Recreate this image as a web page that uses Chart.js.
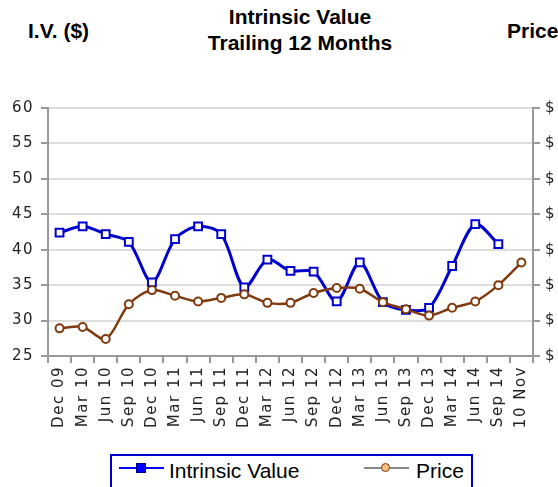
<!DOCTYPE html>
<html>
<head>
<meta charset="utf-8">
<script src="https://cdn.jsdelivr.net/npm/chart.js@4.4.0/dist/chart.umd.min.js"></script>
<style>
   html, body { margin: 0; padding: 0; width: 558px; height: 487px; overflow: hidden; background: #fff; }
   .wrap { position: relative; width: 558px; height: 487px; overflow: hidden; }
   .title { position: absolute; font-family: "Liberation Sans", Arial, sans-serif; font-weight: bold; font-size: 21px; color: #000; line-height: 26px; }
   #chartBox { position: absolute; left: 0; top: 0; width: 600px; height: 447px; }
   .legend { position: absolute; left: 110px; top: 454px; width: 359px; height: 40px; border: 2px solid #0000cc; font-family: "Liberation Sans", Arial, sans-serif; font-size: 21px; color: #000; }
   .item { position: absolute; top: 3px; height: 24px; line-height: 24px; }
   .sym { position: absolute; top: 11px; width: 45px; height: 2px; }
   .mk { position: absolute; }
</style>
</head>
<body>
<div class="wrap">
   <div class="title" style="left:28px; top:18px;">I.V. ($)</div>
   <div class="title" style="left:150px; top:4px; width:300px; text-align:center;">Intrinsic Value<br>Trailing 12 Months</div>
   <div class="title" style="left:507px; top:18px;">Price</div>
   <div id="chartBox"><canvas id="lineChart"></canvas></div>
   <div class="legend">
      <div class="sym" style="left:7px; background:#0000ff;"></div>
      <div class="mk" style="left:24px; top:7px; width:8px; height:8px; background:#0000ff; border:1px solid #000088;"></div>
      <div class="item" style="left:57px;">Intrinsic Value</div>
      <div class="sym" style="left:252px; background:#888;"></div>
      <div class="mk" style="left:269px; top:7px; width:7px; height:7px; background:#f6c27a; border:1.5px solid #7a3a10; border-radius:50%;"></div>
      <div class="item" style="left:304px;">Price</div>
   </div>
</div>
<script>
const labels = [
   'Dec 09', 'Mar 10', 'Jun 10', 'Sep 10', 'Dec 10', 'Mar 11', 'Jun 11',
   'Sep 11', 'Dec 11', 'Mar 12', 'Jun 12', 'Sep 12', 'Dec 12', 'Mar 13',
   'Jun 13', 'Sep 13', 'Dec 13', 'Mar 14', 'Jun 14', 'Sep 14', '10 Nov'
];
const intrinsicValue = [
   42.4, 43.3, 42.2, 41.1, 35.4, 41.5, 43.3, 42.2, 34.7, 38.6, 37.0,
   36.9, 32.7, 38.2, 32.6, 31.5, 31.8, 37.7, 43.6, 40.8, null
];
const price = [
   28.9, 29.1, 27.4, 32.3, 34.3, 33.5, 32.7, 33.2, 33.7, 32.5, 32.5,
   33.9, 34.6, 34.5, 32.6, 31.6, 30.7, 31.8, 32.7, 35.0, 38.2
];
const axisMin = 25;
const axisMax = 60;
const axisStep = 5;

// spaced-out tick text like the original
const spacing = {
   id: 'spacing',
   beforeUpdate(c) { c.ctx.letterSpacing = '1.5px'; },
   beforeDraw(c) { c.ctx.letterSpacing = '1.5px'; }
};

const tickFont = { family: '"DejaVu Sans", sans-serif', size: 15 };

new Chart(document.getElementById('lineChart').getContext('2d'), {
   type: 'line',
   data: {
      labels: labels,
      datasets: [
         {
            label: 'Intrinsic Value',
            data: intrinsicValue,
            yAxisID: 'y',
            borderColor: '#0000cc',
            backgroundColor: '#ffffff',
            borderWidth: 3,
            pointStyle: 'rect',
            pointRadius: 5.5,
            pointBorderWidth: 2,
            tension: 0.3,
            order: 2
         },
         {
            label: 'Price',
            data: price,
            yAxisID: 'y1',
            borderColor: '#7f3b0f',
            backgroundColor: '#ffffff',
            borderWidth: 2.5,
            pointStyle: 'circle',
            pointRadius: 4,
            pointBorderWidth: 2,
            tension: 0.3,
            order: 1
         }
      ]
   },
   options: {
      responsive: true,
      maintainAspectRatio: false,
      animation: false,
      layout: { padding: { top: 108, left: 0, right: 0, bottom: 0 } },
      plugins: { legend: { display: false }, tooltip: { enabled: false } },
      scales: {
         x: {
            offset: true,
            grid: { offset: true, drawOnChartArea: false, drawTicks: true, tickLength: 7, tickColor: '#999', lineWidth: 2 },
            border: { color: '#999', width: 2 },
            ticks: { minRotation: 90, maxRotation: 90, autoSkip: false, color: '#222', font: tickFont, padding: 3 },
            afterFit(s) { s.height = 91; }
         },
         y: {
            position: 'left',
            min: axisMin, max: axisMax,
            grid: { color: '#dddddd', lineWidth: 2, tickLength: 7, tickColor: '#999' },
            border: { color: '#999', width: 2 },
            ticks: { stepSize: axisStep, color: '#222', font: tickFont, padding: 7 },
            afterFit(s) { s.width = 48; }
         },
         y1: {
            position: 'right',
            min: axisMin, max: axisMax,
            grid: { drawOnChartArea: false, tickLength: 7, tickColor: '#999', lineWidth: 2 },
            border: { color: '#999', width: 2 },
            ticks: { stepSize: axisStep, color: '#222', font: tickFont, padding: 5, callback: v => '$ ' + v },
            afterFit(s) { s.width = 67; }
         }
      }
   },
   plugins: [spacing]
});
</script>
</body>
</html>
